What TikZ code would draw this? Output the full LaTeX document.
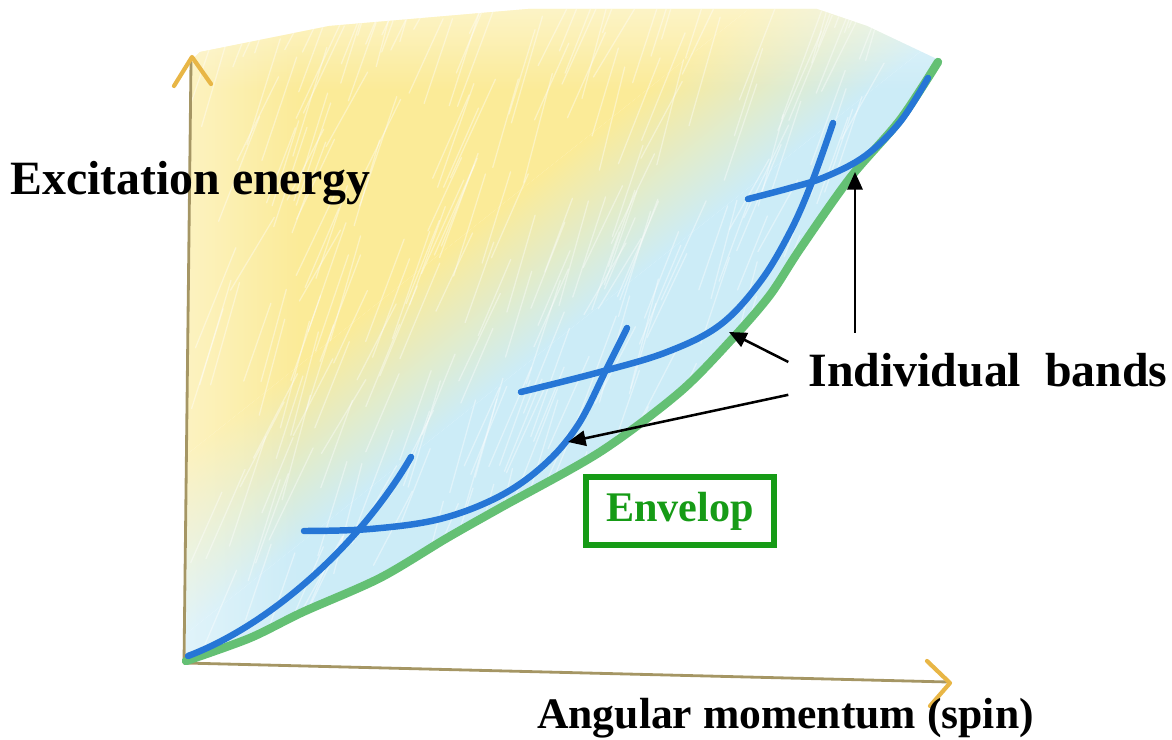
\documentclass[tikz,border=0pt]{standalone}
\usepackage{fontspec}
\setmainfont{Liberation Serif}
\usetikzlibrary{arrows.meta,fadings}
\definecolor{sunyellow}{RGB}{251,235,152}
\definecolor{paleblue}{RGB}{204,236,247}
\definecolor{bandblue}{RGB}{38,118,214}
\definecolor{envgreen}{RGB}{100,192,116}
\definecolor{axisolive}{RGB}{165,150,100}
\definecolor{tipyellow}{RGB}{232,182,70}
\definecolor{boxgreen}{RGB}{22,155,22}
\begin{document}
\begin{tikzpicture}[
  x=0.025cm, y=-0.025cm,
  axis/.style={draw=axisolive, line width=2pt, line cap=round},
  axistip/.style={draw=tipyellow, line width=3pt, line cap=round, line join=round},
  band/.style={draw=bandblue, line width=4.6pt, line cap=round},
  envelope/.style={draw=envgreen, line width=6pt, line cap=round},
  pointer/.style={-{Triangle[length=0.44cm, width=0.38cm]}, line width=1.8pt},
  label/.style={font=\bfseries\fontsize{34}{40}\selectfont, inner sep=0pt},
  envbox/.style={draw=boxgreen, line width=4.2pt, text=boxgreen, font=\bfseries\fontsize{30}{34}\selectfont, minimum width=4.7cm, minimum height=1.68cm}
]
\useasboundingbox (0,0) rectangle (1172,740);

\begin{scope}
\clip (186,662) -- (190,62) -- (200,52) -- (329,26) -- (528,9) -- (817,9) -- (867,26) -- (941,61)
  -- plot[smooth] coordinates {(938,62) (900,120) (850,178) (800,249) (770,295) (733,338) (680,392) (600,452) (500,508) (447,538) (380,578) (303,612) (250,638) (186,661)} -- cycle;
\begin{scope}[transform canvas={rotate around={38.4:(185,660)}}]
\fill[paleblue] (-200,640) rectangle (1400,1000);
\shade[bottom color=paleblue, top color=sunyellow] (-200,500) rectangle (1400,640);
\fill[sunyellow] (-200,-400) rectangle (1400,500);
\end{scope}
\fill[white, path fading=east, opacity=0.4] (186,30) rectangle (300,662);
\fill[white, path fading=south, opacity=0.5] (186,0) rectangle (950,90);
\pgfmathsetseed{7}
\foreach \i in {1,...,360}
  \draw[white, opacity=0.4, line width=0.9pt, line cap=round] ({190+760*rnd},{20+660*rnd}) -- ++({25+20*rnd},{-70-40*rnd});
\end{scope}

\draw[axis] (184,663) -- (191,62);
\draw[axis] (184,663) -- (948,682);
\draw[axistip] (174,86) -- (192,57) -- (211,84);
\draw[axistip] (927,661) -- (950,683) -- (930,706);

\draw[envelope] plot[smooth] coordinates {(186,661) (250,638) (303,612) (380,578) (447,538) (500,508) (600,452) (680,392) (733,338) (770,295) (800,249) (850,178) (900,120) (938,62)};

\draw[band] (188,656) .. controls (270,625) and (360,545) .. (411,457);
\draw[band] plot[smooth, tension=0.6] coordinates {(304,531) (370,529) (440,519) (500,496) (545,464) (578,425) (605,372) (627,328)};
\draw[band] plot[smooth, tension=0.6] coordinates {(521,392) (600,372) (667,352) (720,325) (760,282) (790,232) (812,182) (833,123)};
\draw[band] plot[smooth, tension=0.6] coordinates {(748,199) (790,188) (825,177) (865,156) (900,122) (928,78)};

\node[label, anchor=west] (energy) at (10,183) {Excitation energy};
\node[label, anchor=west, font=\bfseries\fontsize{31}{36}\selectfont] (spin) at (537,718) {Angular momentum (spin)};
\node[label, inner xsep=0.5cm, inner ysep=0.5cm] (bands) at (988,370) {Individual\ \ bands};
\node[envbox] (envelop) at (680,511) {Envelop};

\coordinate (tipD) at (855,172);
\coordinate (tipC) at (729,332);
\coordinate (tipB) at (568,442);
\draw[pointer] (bands.north -| tipD) -- (tipD);
\draw[pointer] ([yshift=0.2cm]bands.west) -- (tipC);
\draw[pointer] ([yshift=-0.62cm]bands.west) -- (tipB);
\end{tikzpicture}
\end{document}
